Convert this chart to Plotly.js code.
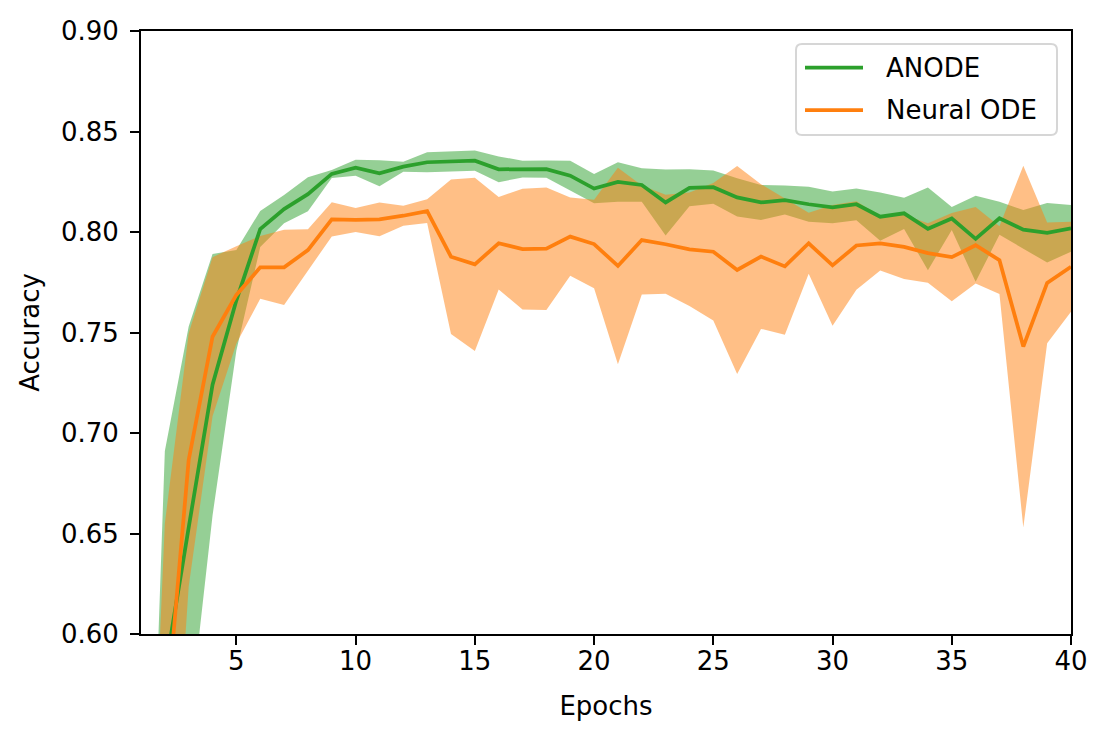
<!DOCTYPE html>
<html>
<head>
<meta charset="utf-8">
<script src="https://cdn.plot.ly/plotly-3.0.1.min.js"></script>
<style>
  html, body { margin: 0; padding: 0; background: #fff; }
  #chart { width: 1108px; height: 741px; }
</style>
</head>
<body>
<div id="chart"></div>
<script>
// Test accuracy per epoch, mean and standard deviation over runs.
const epochs = [
  1, 2, 3, 4, 5, 6, 7, 8, 9, 10,
  11, 12, 13, 14, 15, 16, 17, 18, 19, 20,
  21, 22, 23, 24, 25, 26, 27, 28, 29, 30,
  31, 32, 33, 34, 35, 36, 37, 38, 39, 40,
];

const anodeMean = [
  0.250, 0.581, 0.653, 0.724, 0.766, 0.8015, 0.8114, 0.8188, 0.8289, 0.8320,
  0.8292, 0.8325, 0.8347, 0.8352, 0.8355, 0.8312, 0.8313, 0.8313, 0.8280, 0.8216,
  0.8249, 0.8234, 0.8147, 0.8220, 0.8223, 0.8172, 0.8147, 0.8159, 0.8138, 0.8122,
  0.8138, 0.8076, 0.8093, 0.8016, 0.8067, 0.7966, 0.8068, 0.8012, 0.7996, 0.8018,
];
const anodeStd = [
  0.100, 0.110, 0.100, 0.065, 0.025, 0.009, 0.007, 0.0085, 0.002, 0.004,
  0.0065, 0.0025, 0.005, 0.005, 0.005, 0.0064, 0.0042, 0.0043, 0.0075, 0.0073,
  0.0098, 0.0083, 0.0164, 0.0092, 0.0083, 0.0095, 0.0087, 0.0072, 0.0087, 0.0079,
  0.0079, 0.012, 0.0078, 0.0206, 0.0057, 0.0214, 0.0082, 0.0097, 0.0148, 0.0116,
];

const nodeMean = [
  0.280, 0.551, 0.6866, 0.7479, 0.7687, 0.7824, 0.7824, 0.7910, 0.8063, 0.8060,
  0.8063, 0.8081, 0.8104, 0.7877, 0.7839, 0.7944, 0.7915, 0.7917, 0.7977, 0.7940,
  0.7831, 0.7960, 0.7939, 0.7914, 0.7902, 0.7811, 0.7878, 0.7829, 0.7944, 0.7834,
  0.7933, 0.7943, 0.7926, 0.7895, 0.7875, 0.7934, 0.7860, 0.7430, 0.7747, 0.7827,
];
const nodeStd = [
  0.100, 0.104, 0.063, 0.0396, 0.0242, 0.0156, 0.0187, 0.0104, 0.0085, 0.006,
  0.0084, 0.005, 0.0059, 0.0384, 0.0431, 0.023, 0.030, 0.0305, 0.0195, 0.022,
  0.0489, 0.0271, 0.0246, 0.0282, 0.0342, 0.0517, 0.036, 0.034, 0.0152, 0.030,
  0.022, 0.0135, 0.016, 0.0148, 0.022, 0.019, 0.0168, 0.090, 0.030, 0.0224,
];

const seriesNames = ['ANODE', 'Neural ODE'];
const xTicks = [5, 10, 15, 20, 25, 30, 35, 40];
const yTicks = [0.60, 0.65, 0.70, 0.75, 0.80, 0.85, 0.90];

const GREEN = '#2ca02c';
const ORANGE = '#ff7f0e';
const FONT = 'DejaVu Sans, Liberation Sans, sans-serif';
const FS = 26;

// Plot area in pixels (matches the margins below); used to place the
// hand-drawn legend box, which plotly's own legend can't size like matplotlib.
const PLOT = { l: 141, r: 1071, t: 31, b: 634 };
const px2x = (px) => (px - PLOT.l) / (PLOT.r - PLOT.l);
const px2y = (py) => (PLOT.b - py) / (PLOT.b - PLOT.t);

// Closed polygon mean+std forward, mean-std back, filled like fill_between.
function band(mean, std, fillcolor) {
  const upper = mean.map((m, i) => m + std[i]);
  const lower = mean.map((m, i) => m - std[i]);
  return {
    x: epochs.concat(epochs.slice().reverse()),
    y: upper.concat(lower.slice().reverse()),
    type: 'scatter',
    mode: 'lines',
    fill: 'toself',
    fillcolor,
    line: { width: 0, color: 'rgba(0,0,0,0)' },
    showlegend: false,
    hoverinfo: 'skip',
  };
}

function meanLine(mean, name, color) {
  return {
    x: epochs,
    y: mean,
    type: 'scatter',
    mode: 'lines',
    name,
    showlegend: false,
    line: { color, width: 3.75 },
  };
}

const traces = [
  band(anodeMean, anodeStd, 'rgba(44,160,44,0.5)'),
  band(nodeMean, nodeStd, 'rgba(255,127,14,0.5)'),
  meanLine(anodeMean, seriesNames[0], GREEN),
  meanLine(nodeMean, seriesNames[1], ORANGE),
];

// Legend: rounded box, two line samples, two labels.
function roundedRect(x0, y0, x1, y1, r) {
  const X = px2x, Y = px2y;
  return `M${X(x0 + r)},${Y(y0)} L${X(x1 - r)},${Y(y0)} Q${X(x1)},${Y(y0)} ${X(x1)},${Y(y0 + r)}` +
    ` L${X(x1)},${Y(y1 - r)} Q${X(x1)},${Y(y1)} ${X(x1 - r)},${Y(y1)}` +
    ` L${X(x0 + r)},${Y(y1)} Q${X(x0)},${Y(y1)} ${X(x0)},${Y(y1 - r)}` +
    ` L${X(x0)},${Y(y0 + r)} Q${X(x0)},${Y(y0)} ${X(x0 + r)},${Y(y0)} Z`;
}

const legendRows = [67.5, 110];
const legendColors = [GREEN, ORANGE];
const shapes = [{
  type: 'path',
  xref: 'paper', yref: 'paper',
  path: roundedRect(796, 44, 1057, 135, 6),
  fillcolor: 'rgba(255,255,255,0.8)',
  line: { color: '#d6d6d6', width: 2 },
  layer: 'above',
}];
const annotations = [];
legendRows.forEach((py, i) => {
  shapes.push({
    type: 'line', xref: 'paper', yref: 'paper',
    x0: px2x(805), x1: px2x(863), y0: px2y(py), y1: px2y(py),
    line: { color: legendColors[i], width: 3.75 },
    layer: 'above',
  });
  annotations.push({
    xref: 'paper', yref: 'paper',
    x: px2x(884), y: px2y(py),
    xanchor: 'left', yanchor: 'middle',
    text: seriesNames[i],
    showarrow: false,
    font: { family: FONT, size: FS, color: '#000' },
  });
});

const axisCommon = {
  showgrid: false,
  zeroline: false,
  showline: true,
  mirror: true,
  linecolor: '#000',
  linewidth: 2,
  ticks: 'outside',
  ticklen: 9,
  tickwidth: 2,
  tickcolor: '#000',
  tickfont: { family: FONT, size: FS, color: '#000' },
  tickmode: 'array',
};

const layout = {
  width: 1108,
  height: 741,
  margin: { l: PLOT.l, r: 1108 - PLOT.r, t: PLOT.t, b: 741 - PLOT.b },
  paper_bgcolor: '#fff',
  plot_bgcolor: '#fff',
  font: { family: FONT, size: FS, color: '#000' },
  xaxis: Object.assign({}, axisCommon, {
    range: [1, 40],
    tickvals: xTicks,
    ticktext: xTicks.map(String),
    ticklabelstandoff: -6,
    title: { text: 'Epochs', font: { family: FONT, size: FS }, standoff: 22 },
  }),
  yaxis: Object.assign({}, axisCommon, {
    range: [0.6, 0.9],
    tickvals: yTicks,
    ticktext: yTicks.map(v => v.toFixed(2)),
    ticklabelstandoff: 6,
    title: { text: 'Accuracy', font: { family: FONT, size: FS }, standoff: 14 },
  }),
  shapes,
  annotations,
  showlegend: false,
};

Plotly.newPlot('chart', traces, layout, { displayModeBar: false, staticPlot: true });
</script>
</body>
</html>
